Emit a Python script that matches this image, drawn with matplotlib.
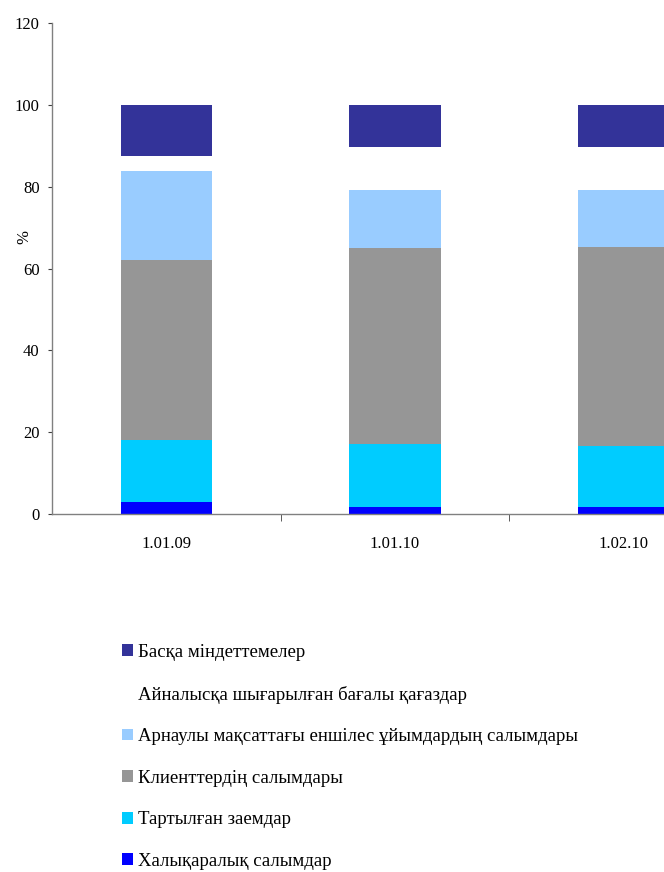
import matplotlib
matplotlib.use("Agg")
import matplotlib.pyplot as plt
from matplotlib.patches import Patch
import numpy as np

plt.rcParams['font.family'] = ['Liberation Serif', 'DejaVu Serif']

dates = ["1.01.09", "1.01.10", "1.02.10"]

# stacked from bottom to top, percent of total
intl_deposits = [2.9, 1.7, 1.7]
borrowed_loans = [15.2, 15.4, 14.9]
client_deposits = [43.9, 48.0, 48.8]
spv_deposits = [21.9, 14.2, 13.9]
securities = [3.7, 10.5, 10.5]
other = [12.4, 10.2, 10.2]

series = [
    ("Халықаралық салымдар", intl_deposits, "#0000FF"),
    ("Тартылған заемдар", borrowed_loans, "#00CCFF"),
    ("Клиенттердің салымдары", client_deposits, "#969696"),
    ("Арнаулы мақсаттағы еншілес ұйымдардың салымдары", spv_deposits, "#99CCFF"),
    ("Айналысқа шығарылған бағалы қағаздар", securities, "#FFFFFF"),
    ("Басқа міндеттемелер", other, "#333399"),
]

fig = plt.figure(figsize=(6.64, 8.72), dpi=100)
ax = fig.add_axes([52 / 664, 358 / 872, 686 / 664, 490.7 / 872])

x = np.arange(len(dates))
bottom = np.zeros(len(dates))
for name, vals, col in series:
    ax.bar(x, vals, width=0.4, bottom=bottom, color=col, linewidth=0)
    bottom += np.array(vals)

ax.set_xlim(-0.5, 2.5)
ax.set_ylim(0, 120)
ax.set_yticks([0, 20, 40, 60, 80, 100, 120])
ax.set_xticks(x)
ax.set_xticklabels(dates)
ax.set_xticks([0.5, 1.5], minor=True)

for s in ["top", "right"]:
    ax.spines[s].set_visible(False)
for s in ["left", "bottom"]:
    ax.spines[s].set_color("#808080")
    ax.spines[s].set_linewidth(1.0)

ax.tick_params(axis="y", length=3, pad=6, labelsize=12, color="#404040")
ax.tick_params(axis="x", which="major", length=0, pad=16, labelsize=12)
ax.tick_params(axis="x", which="minor", length=5, color="#404040")

ax.set_ylabel("%", fontsize=12)
ax.yaxis.set_label_coords(-0.028, 0.565)

handles = [Patch(facecolor=col, edgecolor="none", label=name)
           for name, vals, col in reversed(series)]
fig.legend(handles=handles, loc="upper left",
           bbox_to_anchor=(114.5 / 664, 1 - 636.5 / 872),
           frameon=False, fontsize=13.5,
           handlelength=0.59, handleheight=0.59,
           handletextpad=0.27, labelspacing=1.31, borderaxespad=0)

fig.savefig("out.png", dpi=100)
